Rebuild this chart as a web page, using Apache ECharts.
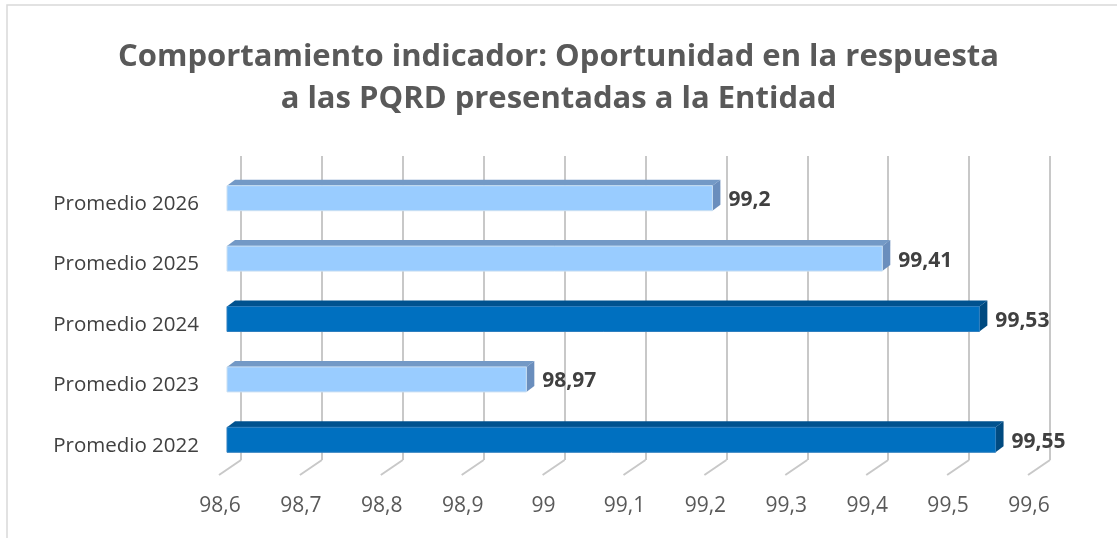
<!DOCTYPE html>
<html>
<head>
<meta charset="utf-8">
<script src="https://cdn.jsdelivr.net/npm/echarts@6/dist/echarts.min.js"></script>
<style>
  html, body { margin: 0; padding: 0; background: #fff; }
  #main { width: 1117px; height: 538px; }
</style>
</head>
<body>
<div id="main"></div>
<script>
// datos del indicador (de abajo hacia arriba, como los pinta el eje de categorias)
var categorias = ['Promedio 2022', 'Promedio 2023', 'Promedio 2024', 'Promedio 2025', 'Promedio 2026'];
var valores = [99.55, 98.97, 99.53, 99.41, 99.2];
var destacados = ['Promedio 2022', 'Promedio 2024'];
var ticks = [98.6, 98.7, 98.8, 98.9, 99, 99.1, 99.2, 99.3, 99.4, 99.5, 99.6];

var xMin = 98.6, xMax = 99.6;
var fuente = '"Open Sans", "DejaVu Sans", sans-serif';

function coma(v) {
  return String(parseFloat(Number(v).toFixed(2))).replace('.', ',');
}

var myChart = echarts.init(document.getElementById('main'));

// barras "3D" con cara frontal, tapa y lateral
function barra3d(params, api) {
  var idx = api.value(0);
  var val = api.value(1);
  var ini = api.coord([xMin, idx]);
  var fin = api.coord([val, idx]);
  var h = 25, dx = 8, dy = 6;
  var x0 = ini[0], x1 = fin[0];
  var yt = ini[1] - h / 2, yb = ini[1] + h / 2;
  var oscuro = destacados.indexOf(categorias[idx]) >= 0;
  var cFrente = oscuro ? '#0070C0' : '#99CCFF';
  var cTapa = oscuro ? '#00528F' : '#7399C6';
  var cLado = oscuro ? '#004A80' : '#6A8EBD';
  return {
    type: 'group',
    children: [
      { type: 'polygon', shape: { points: [[x0, yt], [x0 + dx, yt - dy], [x1 + dx, yt - dy], [x1, yt]] },
        style: { fill: cTapa } },
      { type: 'polygon', shape: { points: [[x1, yt], [x1 + dx, yt - dy], [x1 + dx, yb - dy], [x1, yb]] },
        style: { fill: cLado } },
      { type: 'rect', shape: { x: x0, y: yt, width: x1 - x0, height: h },
        style: { fill: cFrente, stroke: oscuro ? '#2f7fbf' : '#c9dff2', lineWidth: 1 } },
      { type: 'text', x: x1 + dx + 8, y: ini[1] + 2,
        style: { text: coma(val), fill: '#404040', font: 'bold 21px ' + fuente,
                 verticalAlign: 'middle', align: 'left' } }
    ]
  };
}

// lineas del "piso" que salen de cada linea de division
function piso(params, api) {
  var v = api.value(0);
  var p = api.coord([v, 0]);
  var fondo = params.coordSys.y + params.coordSys.height;
  return {
    type: 'line',
    shape: { x1: p[0], y1: fondo, x2: p[0] - 22, y2: fondo + 15 },
    style: { stroke: '#c8c8c8', lineWidth: 2 }
  };
}

var option = {
  backgroundColor: '#fff',
  animation: false,
  title: {
    text: 'Comportamiento indicador: Oportunidad en la respuesta\na las PQRD presentadas a la Entidad',
    left: 'center',
    top: 31,
    textStyle: {
      fontFamily: fuente,
      fontWeight: 'bold',
      fontSize: 31,
      lineHeight: 42,
      color: '#595959'
    }
  },
  graphic: [{
    type: 'rect',
    shape: { x: 7, y: 5, width: 1150, height: 600 },
    style: { fill: 'none', stroke: '#d9d9d9', lineWidth: 1.5 },
    silent: true
  }],
  grid: [
    { left: 227, right: 81, top: 168, bottom: 68 },   // barras
    { left: 241, right: 67, top: 156, bottom: 78 },   // pared del fondo
    { left: 220, right: 88, top: 156, bottom: 63 },   // rotulos del eje x
    { left: 227, right: 81, top: 174, bottom: 62 }    // rotulos de categorias
  ],
  xAxis: [
    { gridIndex: 0, type: 'value', min: xMin, max: xMax, interval: 0.1,
      axisLine: { show: false }, axisTick: { show: false }, axisLabel: { show: false }, splitLine: { show: false } },
    { gridIndex: 1, type: 'value', min: xMin, max: xMax, interval: 0.1,
      axisLine: { show: false }, axisTick: { show: false }, axisLabel: { show: false },
      splitLine: { show: true, lineStyle: { color: '#c8c8c8', width: 2 } } },
    { gridIndex: 2, type: 'value', min: xMin, max: xMax, interval: 0.1,
      axisLine: { show: false }, axisTick: { show: false }, splitLine: { show: false },
      axisLabel: {
        margin: 21, color: '#595959', fontSize: 21, fontFamily: fuente,
        formatter: function (v) { return coma(v); }
      } },
    { gridIndex: 3, type: 'value', show: false, min: xMin, max: xMax }
  ],
  yAxis: [
    { gridIndex: 0, type: 'category', data: categorias, show: false },
    { gridIndex: 1, type: 'value', show: false },
    { gridIndex: 2, type: 'value', show: false },
    { gridIndex: 3, type: 'category', data: categorias,
      axisLine: { show: false }, axisTick: { show: false }, splitLine: { show: false },
      axisLabel: { margin: 28, color: '#404040', fontSize: 20.5, fontFamily: fuente } }
  ],
  series: [
    {
      type: 'custom',
      xAxisIndex: 1, yAxisIndex: 1,
      renderItem: piso,
      data: ticks.map(function (t) { return [t, 0]; }),
      silent: true,
      z: 1
    },
    {
      type: 'custom',
      xAxisIndex: 0, yAxisIndex: 0,
      renderItem: barra3d,
      encode: { x: 1, y: 0 },
      data: valores.map(function (v, i) { return [i, v]; }),
      z: 5
    }
  ]
};

myChart.setOption(option);
window.addEventListener('resize', myChart.resize);
</script>
</body>
</html>
